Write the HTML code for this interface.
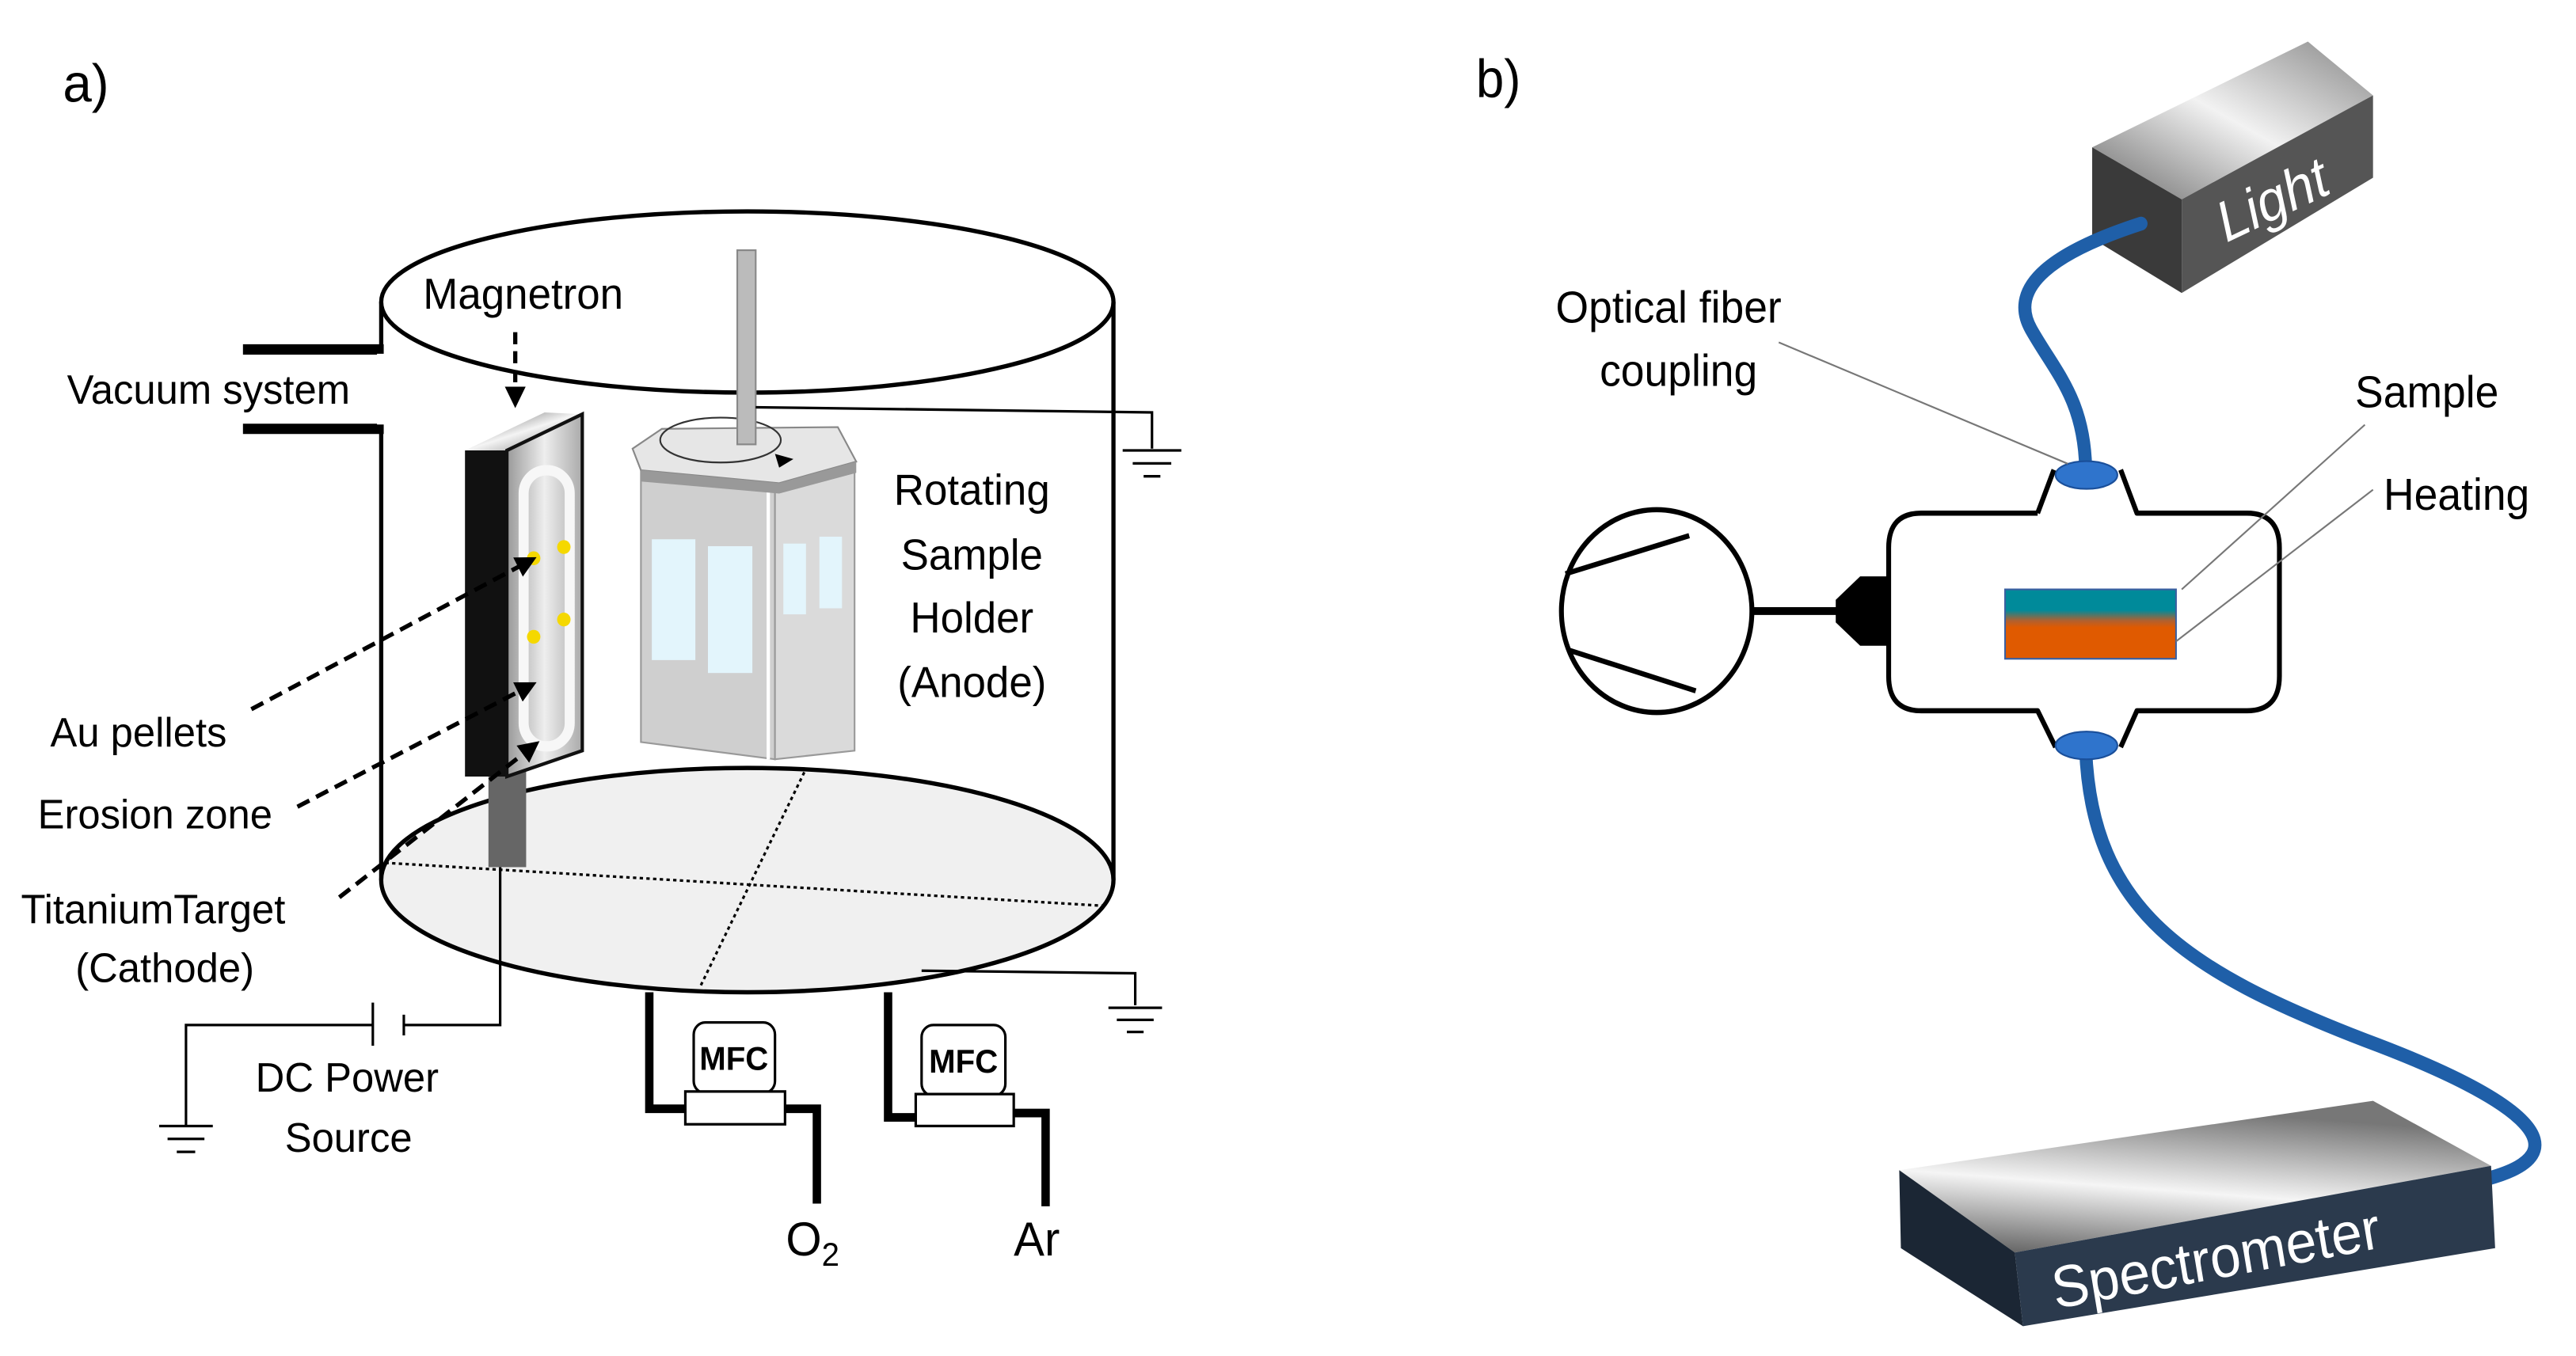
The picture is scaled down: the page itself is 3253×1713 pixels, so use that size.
<!DOCTYPE html>
<html><head><meta charset="utf-8">
<style>html,body{margin:0;padding:0;background:#fff;}svg{display:block;}</style>
</head><body>
<svg width="3253" height="1713" viewBox="0 0 3253 1713" xmlns="http://www.w3.org/2000/svg" font-family="Liberation Sans, Arial, sans-serif">
<defs>
<marker id="ah" markerWidth="5" markerHeight="5" refX="4" refY="2.5" orient="auto" markerUnits="strokeWidth"><path d="M0,0 L5,2.5 L0,5 z" fill="#000"/></marker>
<linearGradient id="topg" x1="0" y1="0" x2="1" y2="1"><stop offset="0" stop-color="#555"/><stop offset="0.5" stop-color="#f4f4f4"/><stop offset="1" stop-color="#777"/></linearGradient>
<linearGradient id="plate" x1="0" y1="0" x2="1" y2="0"><stop offset="0" stop-color="#999"/><stop offset="0.5" stop-color="#eee"/><stop offset="1" stop-color="#aaa"/></linearGradient>
<linearGradient id="lt" x1="0" y1="1" x2="1" y2="0"><stop offset="0" stop-color="#6a6a6a"/><stop offset="0.5" stop-color="#f2f2f2"/><stop offset="1" stop-color="#888"/></linearGradient>
<linearGradient id="sp" x1="0" y1="1" x2="0.3" y2="0"><stop offset="0" stop-color="#555"/><stop offset="0.5" stop-color="#f5f5f5"/><stop offset="1" stop-color="#777"/></linearGradient>
<linearGradient id="samp" x1="0" y1="0" x2="0" y2="1"><stop offset="0" stop-color="#008a9a"/><stop offset="0.3" stop-color="#008a9a"/><stop offset="0.45" stop-color="#b06030"/><stop offset="0.55" stop-color="#e05a00"/><stop offset="1" stop-color="#e05a00"/></linearGradient>
</defs>

<!-- Panel a -->
<g transform="scale(1.058,1.09)">
<text x="75" y="118" font-size="62">a)</text>
<ellipse cx="892" cy="1020" rx="437" ry="130" fill="#f0f0f0" stroke="#000" stroke-width="5"/>
<line x1="460" y1="1000" x2="1320" y2="1050" stroke="#000" stroke-width="3" stroke-dasharray="4,4"/>
<line x1="960" y1="895" x2="835" y2="1145" stroke="#000" stroke-width="3" stroke-dasharray="4,4"/>
<ellipse cx="892" cy="350" rx="437" ry="105" fill="none" stroke="#000" stroke-width="5"/>
<line x1="1329" y1="350" x2="1329" y2="1020" stroke="#000" stroke-width="5"/>
<line x1="290" y1="405" x2="458" y2="405" stroke="#000" stroke-width="12"/>
<line x1="290" y1="497" x2="458" y2="497" stroke="#000" stroke-width="12"/>
<rect x="450" y="410" width="12" height="82" fill="#fff"/>
<line x1="455" y1="350" x2="455" y2="408" stroke="#000" stroke-width="5"/>
<line x1="455" y1="494" x2="455" y2="1020" stroke="#000" stroke-width="5"/>
<text x="80" y="468" font-size="48">Vacuum system</text>
<text x="505" y="358" font-size="50">Magnetron</text>
<line x1="615" y1="385" x2="615" y2="468" stroke="#000" stroke-width="5" stroke-dasharray="14,8" marker-end="url(#ah)"/>
<rect x="583" y="880" width="45" height="125" fill="#666"/>
<polygon points="555,522 605,522 605,900 555,900" fill="#111"/>
<polygon points="555,522 650,478 695,480 605,522" fill="url(#topg)"/>
<polygon points="605,522 695,480 695,870 605,900" fill="url(#plate)" stroke="#111" stroke-width="4"/>
<rect x="625" y="545" width="55" height="320" rx="27" fill="none" stroke="#f7f7f7" stroke-width="12"/>
<circle cx="637" cy="647" r="8" fill="#f5d800"/><circle cx="673" cy="634" r="8" fill="#f5d800"/>
<circle cx="637" cy="738" r="8" fill="#f5d800"/><circle cx="673" cy="718" r="8" fill="#f5d800"/>
<g stroke="#000" stroke-width="5" stroke-dasharray="16,9" fill="none">
<line x1="300" y1="822" x2="636" y2="648" marker-end="url(#ah)"/>
<line x1="355" y1="935" x2="636" y2="793" marker-end="url(#ah)"/>
<line x1="405" y1="1040" x2="640" y2="862" marker-end="url(#ah)"/>
</g>
<text x="60" y="865" font-size="48">Au pellets</text>
<text x="45" y="960" font-size="48">Erosion zone</text>
<text x="25" y="1070" font-size="48">TitaniumTarget</text>
<text x="90" y="1138" font-size="48">(Cathode)</text>
<g stroke="#000" stroke-width="3" fill="none">
<polyline points="597,1005 597,1188 482,1188"/>
<polyline points="445,1188 222,1188 222,1305"/>
<line x1="445" y1="1162" x2="445" y2="1212"/>
<line x1="482" y1="1176" x2="482" y2="1200"/>
<line x1="190" y1="1305" x2="254" y2="1305"/><line x1="200" y1="1320" x2="244" y2="1320"/><line x1="211" y1="1335" x2="233" y2="1335"/>
</g>
<text x="305" y="1265" font-size="48">DC Power</text>
<text x="340" y="1335" font-size="48">Source</text>
<polygon points="765,545 925,565 925,880 765,860" fill="#cfcfcf" stroke="#999" stroke-width="2"/>
<polygon points="925,565 1020,540 1020,870 925,880" fill="#dadada" stroke="#999" stroke-width="2"/>
<line x1="917" y1="565" x2="917" y2="880" stroke="#fff" stroke-width="4"/>
<polygon points="755,520 790,497 1000,495 1022,535 930,560 765,545" fill="#e6e6e6" stroke="#888" stroke-width="2"/>
<polygon points="765,545 930,560 1022,535 1022,548 930,572 765,558" fill="#999"/>
<rect x="778" y="625" width="52" height="140" fill="#e3f5fc"/>
<rect x="845" y="633" width="53" height="147" fill="#e3f5fc"/>
<rect x="935" y="630" width="27" height="82" fill="#e3f5fc"/>
<rect x="978" y="622" width="27" height="83" fill="#e3f5fc"/>
<ellipse cx="860" cy="510" rx="72" ry="26" fill="none" stroke="#333" stroke-width="2"/>
<path d="M925,526 L947,532 L930,542 z" fill="#000"/>
<rect x="880" y="290" width="22" height="225" fill="#bbb" stroke="#888" stroke-width="2"/>
<g stroke="#000" stroke-width="3" fill="none">
<polyline points="902,472 1375,478 1375,520"/>
<line x1="1340" y1="522" x2="1410" y2="522"/><line x1="1352" y1="537" x2="1398" y2="537"/><line x1="1365" y1="552" x2="1385" y2="552"/>
<polyline points="1100,1125 1355,1128 1355,1165"/>
<line x1="1323" y1="1168" x2="1387" y2="1168"/><line x1="1333" y1="1182" x2="1377" y2="1182"/><line x1="1345" y1="1196" x2="1365" y2="1196"/>
</g>
<g font-size="50" text-anchor="middle">
<text x="1160" y="585">Rotating</text><text x="1160" y="660">Sample</text><text x="1160" y="733">Holder</text><text x="1160" y="808">(Anode)</text>
</g>
<g stroke="#000" stroke-width="10" fill="none">
<polyline points="775,1150 775,1285 820,1285"/><polyline points="935,1285 975,1285 975,1395"/>
<polyline points="1060,1150 1060,1295 1093,1295"/><polyline points="1208,1290 1248,1290 1248,1398"/>
</g>
<g stroke="#000" stroke-width="3" fill="#fff">
<rect x="828" y="1185" width="97" height="82" rx="14"/><rect x="818" y="1265" width="119" height="38"/>
<rect x="1100" y="1188" width="100" height="82" rx="14"/><rect x="1093" y="1268" width="117" height="37"/>
</g>
<text x="876" y="1240" font-size="38" font-weight="bold" text-anchor="middle">MFC</text>
<text x="1150" y="1243" font-size="38" font-weight="bold" text-anchor="middle">MFC</text>
<text x="938" y="1455" font-size="55">O<tspan font-size="38" dy="12">2</tspan></text>
<text x="1210" y="1455" font-size="55">Ar</text>
</g>

<!-- Panel b -->
<g transform="translate(1650,0) scale(1.028,1.095)">
<text x="208" y="112" font-size="62">b)</text>
<polygon points="965,170 1230,48 1310,110 1075,230" fill="url(#lt)"/>
<polygon points="965,170 1075,230 1075,338 965,275" fill="#3a3a3a"/>
<polygon points="1075,230 1310,110 1310,205 1075,338" fill="#555"/>
<text x="1130" y="280" font-size="66" fill="#fff" font-style="italic" transform="rotate(-24 1130 280)">Light</text>
<path d="M1025,258 C920,290 860,330 890,380 C920,430 955,460 957,540" fill="none" stroke="#1f5fa8" stroke-width="16" stroke-linecap="round"/>
<path d="M957,865 C965,1050 1080,1120 1300,1200 C1500,1270 1570,1330 1450,1360" fill="none" stroke="#1f5fa8" stroke-width="16" stroke-linecap="round"/>
<path d="M898,592 L755,592 Q715,592 715,632 L715,780 Q715,820 755,820 L898,820 L920,862 M1000,862 L1020,820 L1155,820 Q1195,820 1195,780 L1195,632 Q1195,592 1155,592 L1020,592 L1000,542 M918,542 L898,592" fill="none" stroke="#000" stroke-width="6" stroke-linejoin="round"/>
<ellipse cx="958" cy="548" rx="38" ry="16" fill="#2f74cc" stroke="#1a4f9a" stroke-width="2"/>
<ellipse cx="958" cy="860" rx="38" ry="16" fill="#2f74cc" stroke="#1a4f9a" stroke-width="2"/>
<rect x="858" y="680" width="210" height="80" fill="url(#samp)" stroke="#3a5fa0" stroke-width="2"/>
<circle cx="430" cy="705" r="117" fill="#fff" stroke="#000" stroke-width="6"/>
<line x1="318" y1="662" x2="470" y2="618" stroke="#000" stroke-width="6"/>
<line x1="322" y1="750" x2="478" y2="797" stroke="#000" stroke-width="6"/>
<line x1="547" y1="705" x2="655" y2="705" stroke="#000" stroke-width="9"/>
<polygon points="650,692 680,665 715,665 715,745 680,745 650,718" fill="#000"/>
<g font-size="52">
<text x="306" y="372">Optical fiber</text><text x="360" y="445">coupling</text>
<text x="1288" y="470">Sample</text><text x="1323" y="588">Heating</text>
</g>
<g stroke="#777" stroke-width="2">
<line x1="580" y1="395" x2="935" y2="535"/>
<line x1="1300" y1="490" x2="1075" y2="680"/>
<line x1="1310" y1="565" x2="1068" y2="740"/>
</g>
<polygon points="728,1350 1310,1270 1455,1345 870,1445" fill="url(#sp)"/>
<polygon points="728,1350 870,1445 880,1530 730,1440" fill="#1b2634"/>
<polygon points="870,1445 1455,1345 1460,1440 880,1530" fill="#2b3a4d"/>
<text x="920" y="1510" font-size="68" fill="#fff" transform="rotate(-10 920 1510)">Spectrometer</text>
</g>
</svg>
</body></html>
